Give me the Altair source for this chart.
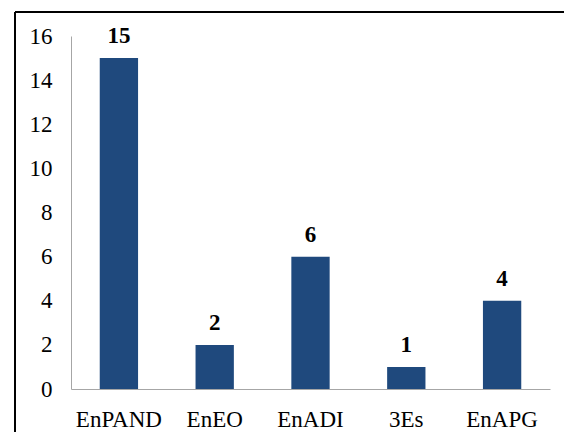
import altair as alt
import pandas as pd

categories = ["EnPAND", "EnEO", "EnADI", "3Es", "EnAPG"]
counts = [15, 2, 6, 1, 4]
y_ticks = [0, 2, 4, 6, 8, 10, 12, 14, 16]

df = pd.DataFrame({"cat": categories, "n": counts})
FONT = "Liberation Serif, Times New Roman, serif"

base = alt.Chart(df)

x_enc = alt.X("cat:N", sort=categories, title=None,
              scale=alt.Scale(paddingInner=0.6, paddingOuter=0.3),
              axis=alt.Axis(labelAngle=0, ticks=False, domainColor="#a6a6a6",
                            labelFont=FONT, labelFontSize=23, labelColor="black",
                            labelPadding=19))
y_enc = alt.Y("n:Q", title=None,
              scale=alt.Scale(domain=[0, 16], nice=False),
              axis=alt.Axis(values=y_ticks, grid=False, ticks=False, domainColor="#a6a6a6",
                            labelFont=FONT, labelFontSize=23, labelColor="black",
                            labelPadding=19))

bars = base.mark_bar(color="#1F497D").encode(x=x_enc, y=y_enc)
labels = base.mark_text(font=FONT, fontSize=23, fontWeight="bold", color="black",
                        baseline="alphabetic", dy=-15).encode(
    x=alt.X("cat:N", sort=categories), y="n:Q", text="n:Q")

frame_data = alt.Data(values=[{"f": 1}])
top_line = alt.Chart(frame_data).mark_rule(color="black", strokeWidth=2).encode(
    x=alt.value(-56), x2=alt.value(600), y=alt.value(-24))
left_line = alt.Chart(frame_data).mark_rule(color="black", strokeWidth=2).encode(
    x=alt.value(-56), y=alt.value(-24), y2=alt.value(500))

chart = alt.layer(bars, labels, top_line, left_line).properties(
    width=479, height=353,
    background="white",
    autosize=alt.AutoSizeParams(type="none"),
    padding={"left": 71, "top": 36, "right": 14, "bottom": 43},
).configure_view(strokeWidth=0, stroke=None)

chart.save("out.html", embed_options={"renderer": "svg", "actions": False})
